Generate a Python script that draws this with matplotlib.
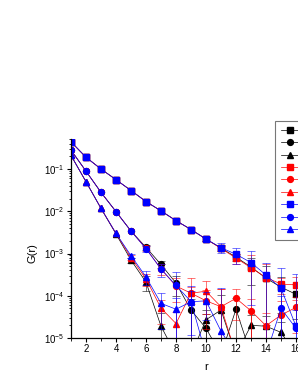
import numpy as np
import matplotlib
matplotlib.use("Agg")
import matplotlib.pyplot as plt
from matplotlib.ticker import MultipleLocator, LogLocator, NullFormatter


# values (points at 4e-6 lie below the axis)
r = np.arange(1, 17)

k_sq = [0.44, 0.19, 0.10, 0.056, 0.031, 0.017, 0.0102, 0.0060, 0.0037, 0.0022, 0.00135, 0.00082, 0.00048, 0.00026, 0.00016, 0.000108]
r_sq = [0.44, 0.19, 0.10, 0.056, 0.031, 0.017, 0.0102, 0.0060, 0.0037, 0.0022, 0.00132, 0.00078, 0.00046, 0.00027, 0.00019, 0.00018]
b_sq = [0.44, 0.19, 0.10, 0.056, 0.031, 0.017, 0.0102, 0.0060, 0.0037, 0.0022, 0.00137, 0.00096, 0.00061, 0.00031, 0.00015, 0.000019]

k_ci = [0.28, 0.089, 0.028, 0.0098, 0.0034, 0.00140, 0.00055, 0.00020, 0.000046, 0.000017, 0.000004, 0.000048, 0.000004, 0.000004, 0.000004, 0.000004]
r_ci = [0.28, 0.089, 0.028, 0.0098, 0.0034, 0.00132, 0.00043, 0.00017, 0.000115, 0.000076, 0.000055, 0.000087, 0.000044, 0.0000195, 0.000035, 0.000053]
b_ci = [0.28, 0.089, 0.028, 0.0098, 0.0034, 0.00130, 0.00043, 0.000175, 0.000073, 0.000004, 0.000004, 0.000004, 0.000004, 0.000004, 0.000050, 0.000017]

k_tr = [0.21, 0.050, 0.0117, 0.0029, 0.00070, 0.00021, 0.000019, 0.000004, 0.000004, 0.000027, 0.000046, 0.000004, 0.000020, 0.000019, 0.0000136, 0.000004]
r_tr = [0.21, 0.050, 0.0117, 0.0030, 0.00080, 0.00025, 0.000051, 0.000022, 0.000115, 0.000128, 0.000055, 0.000004, 0.000004, 0.000004, 0.000004, 0.000004]
b_tr = [0.21, 0.050, 0.0117, 0.0030, 0.00089, 0.00028, 0.000066, 0.000048, 0.000072, 0.000076, 0.0000145, 0.000004, 0.000004, 0.000004, 0.000004, 0.000004]

# error bars (0 = no bar)
k_sq_err = [0, 0, 0, 0, 0, 0, 0, 0, 0, 0.0002, 0.0002, 0.00015, 0.0003, 0.00024, 0.00012, 0.00008]
r_sq_err = [0, 0, 0, 0, 0, 0, 0, 0, 0, 0.0002, 0.0002, 0.0002, 0.00045, 0.0003, 0.00008, 0.0001]
b_sq_err = [0, 0, 0, 0, 0, 0, 0, 0, 0, 0.0002, 0.00036, 0.0004, 0.00055, 0.0003, 0.0003, 0.0003]
k_ci_err = [0, 0, 0, 0, 0, 0.0002, 0.0001, 0.0001, 0.00004, 0.00002, 0, 0.00004, 0, 0, 0, 0]
r_ci_err = [0, 0, 0, 0, 0, 0.0002, 0.00012, 0.0001, 0.000145, 0.00006, 0.00009, 0.00006, 0.00004, 0.00002, 0.00004, 0.00004]
b_ci_err = [0, 0, 0, 0, 0, 0.0002, 0.00015, 0.0002, 0.0001, 0, 0, 0, 0, 0, 0.00005, 0.00003]
k_tr_err = [0, 0, 0, 0, 0.0001, 0.00008, 0.00002, 0, 0, 0.00002, 0.00006, 0, 0.000015, 0.000015, 0.00001, 0]
r_tr_err = [0, 0, 0, 0, 0.0001, 0.00008, 0.00003, 0.00002, 0.00005, 0.00009, 0.00009, 0, 0, 0, 0, 0]
b_tr_err = [0, 0, 0, 0, 0.0001, 0.0001, 0.00005, 0.00004, 0.00006, 0.00005, 0.000135, 0, 0, 0, 0, 0]

labels = ["k1", "k2", "k3", "r1", "r2", "r3", "b1", "b2", "b3"]


plt.rcParams["font.family"] = ["Liberation Sans", "DejaVu Sans"]
plt.rcParams["mathtext.default"] = "regular"

fig = plt.figure(figsize=(2.98, 3.85), dpi=100)
ax = fig.add_axes([71 / 298, 47 / 385, 270 / 298, 198.5 / 385])

series = [
    (k_sq, k_sq_err, "black", "s"), (k_ci, k_ci_err, "black", "o"), (k_tr, k_tr_err, "black", "^"),
    (r_sq, r_sq_err, "red", "s"), (r_ci, r_ci_err, "red", "o"), (r_tr, r_tr_err, "red", "^"),
    (b_sq, b_sq_err, "blue", "s"), (b_ci, b_ci_err, "blue", "o"), (b_tr, b_tr_err, "blue", "^"),
]

for (vals, errs, col, mk), lab in zip(series, labels):
    vals = np.array(vals)
    errs = np.array(errs)
    m = errs > 0
    ax.errorbar(r[m], vals[m], yerr=errs[m], fmt="none", ecolor=col,
                elinewidth=0.7, capsize=3, capthick=0.7, alpha=0.55)
    ax.plot(r, vals, color=col, lw=0.5, marker=mk, ms=4.2, mec=col, mfc=col,
            label=lab)

ax.set_yscale("log")
ax.set_xlim(1, 19)
ax.set_ylim(1e-5, 0.5)

ax.xaxis.set_major_locator(MultipleLocator(2))
ax.xaxis.set_minor_locator(MultipleLocator(1))
ax.yaxis.set_major_locator(LogLocator(base=10, numticks=10))
ax.yaxis.set_minor_locator(LogLocator(base=10, subs=np.arange(2, 10), numticks=10))
ax.yaxis.set_minor_formatter(NullFormatter())

ax.tick_params(which="major", direction="out", length=3, width=0.8, labelsize=7, pad=1.5)
ax.tick_params(which="minor", direction="out", length=1.8, width=0.6)
ax.spines["top"].set_visible(False)
for s in ("left", "bottom", "right"):
    ax.spines[s].set_linewidth(0.9)

ax.set_xlabel("r", fontsize=8)
ax.set_ylabel("G(r)", fontsize=8)
ax.yaxis.set_label_coords(-33 / 270, 0.43)
ax.xaxis.set_label_coords(0.5, -0.12)

leg = fig.legend(loc="upper left", bbox_to_anchor=(275 / 298, 1 - 121 / 385),
                 fontsize=6, frameon=True, fancybox=False, edgecolor="#555555",
                 handlelength=2.2, labelspacing=0.55, borderpad=0.7,
                 handletextpad=0.5, borderaxespad=0)
leg.get_frame().set_linewidth(0.8)

fig.savefig("out.png", dpi=100)
